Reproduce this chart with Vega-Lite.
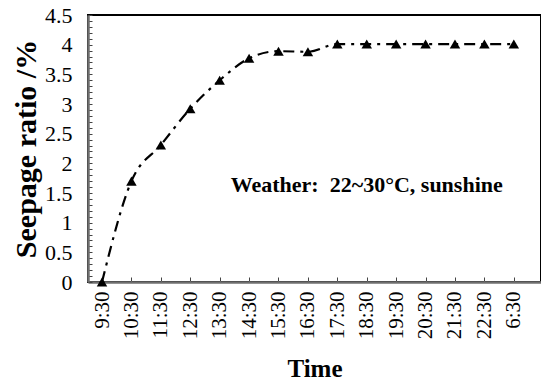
{
  "$schema": "https://vega.github.io/schema/vega-lite/v6.json",
  "autosize": {"type": "none"},
  "padding": {"left": 88, "top": 15, "right": 0, "bottom": 103},
  "width": 453,
  "height": 267,
  "config": {
    "view": {"stroke": "#000", "strokeWidth": 2},
    "font": "Liberation Serif",
    "axis": {
      "labelFont": "Liberation Serif",
      "titleFont": "Liberation Serif",
      "labelColor": "#000",
      "titleColor": "#000",
      "domainColor": "#6f6f6f",
      "domainWidth": 2.5,
      "tickColor": "#444",
      "grid": false
    }
  },
  "data": {
    "values": [
      {"time": "9:30", "ratio": 0},
      {"time": "10:30", "ratio": 1.7},
      {"time": "11:30", "ratio": 2.31},
      {"time": "12:30", "ratio": 2.92},
      {"time": "13:30", "ratio": 3.4},
      {"time": "14:30", "ratio": 3.77},
      {"time": "15:30", "ratio": 3.89},
      {"time": "16:30", "ratio": 3.88},
      {"time": "17:30", "ratio": 4.01},
      {"time": "18:30", "ratio": 4.01},
      {"time": "19:30", "ratio": 4.01},
      {"time": "20:30", "ratio": 4.01},
      {"time": "21:30", "ratio": 4.01},
      {"time": "22:30", "ratio": 4.01},
      {"time": "6:30", "ratio": 4.01}
    ]
  },
  "encoding": {
    "x": {
      "field": "time",
      "type": "ordinal",
      "sort": null,
      "scale": {"type": "point", "padding": 0.7, "align": 0.34},
      "axis": {
        "title": "Time",
        "titleFontSize": 25,
        "titleFontWeight": "bold",
        "titlePadding": 18,
        "labelAngle": -90,
        "labelFontSize": 21,
        "labelPadding": 14,
        "tickSize": -5,
        "tickWidth": 1
      }
    },
    "y": {
      "field": "ratio",
      "type": "quantitative",
      "scale": {"domain": [0, 4.5], "nice": false},
      "axis": {
        "title": "Seepage ratio /%",
        "titleFontSize": 30,
        "titleFontWeight": "bold",
        "titlePadding": 3,
        "values": [0, 0.1, 0.2, 0.3, 0.4, 0.5, 0.6, 0.7, 0.8, 0.9, 1, 1.1, 1.2, 1.3, 1.4, 1.5, 1.6, 1.7, 1.8, 1.9, 2, 2.1, 2.2, 2.3, 2.4, 2.5, 2.6, 2.7, 2.8, 2.9, 3, 3.1, 3.2, 3.3, 3.4, 3.5, 3.6, 3.7, 3.8, 3.9, 4, 4.1, 4.2, 4.3, 4.4, 4.5],
        "labelExpr": "abs(datum.value * 2 - round(datum.value * 2)) < 0.01 ? format(datum.value, '~g') : ''",
        "labelFontSize": 22,
        "labelPadding": 20,
        "tickSize": -4,
        "tickWidth": 1
      }
    }
  },
  "layer": [
    {
      "mark": {"type": "line", "color": "#000", "strokeWidth": 2.2, "strokeDash": [11, 6, 3, 6], "interpolate": "monotone"}
    },
    {
      "mark": {"type": "point", "shape": "triangle-up", "filled": true, "color": "#000", "size": 110, "opacity": 1}
    },
    {
      "data": {"values": [{"time": "18:30", "ratio": 1.63, "label": "Weather:\u00a0 22~30°C, sunshine"}]},
      "mark": {"type": "text", "font": "Liberation Serif", "fontSize": 22, "fontWeight": "bold", "color": "#000", "align": "center", "baseline": "middle"},
      "encoding": {
        "text": {"field": "label"}
      }
    }
  ]
}
